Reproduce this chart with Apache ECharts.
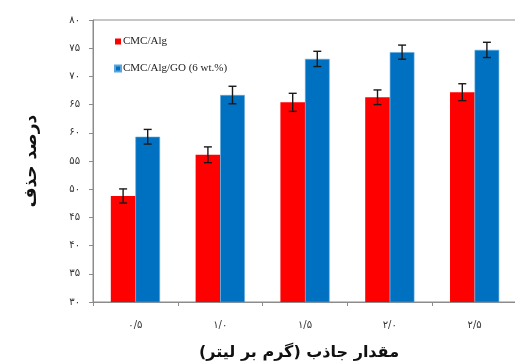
<!DOCTYPE html>
<html>
<head>
<meta charset="utf-8">
<script src="https://cdn.jsdelivr.net/npm/echarts@6/dist/echarts.min.js"></script>
<style>
  html, body { margin: 0; padding: 0; background: #fff; }
  #chart { width: 515px; height: 364px; }
</style>
</head>
<body>
<div id="chart"></div>
<script>
// Adsorbent dose (g/L), written with Persian digits
const categories = ['۰/۵', '۱/۰', '۱/۵', '۲/۰', '۲/۵'];

// Removal percentage for each membrane
const cmcAlg = [48.8, 56.1, 65.4, 66.3, 67.2];
const cmcAlgGo = [59.3, 66.7, 73.1, 74.3, 74.7];

// Standard deviation for the error bars
const cmcAlgErr = [1.25, 1.4, 1.6, 1.3, 1.5];
const cmcAlgGoErr = [1.3, 1.55, 1.35, 1.25, 1.35];

const seriesNames = ['CMC/Alg', 'CMC/Alg/GO (6 wt.%)'];

const persianDigits = '۰۱۲۳۴۵۶۷۸۹';
const toPersian = v => String(v).replace(/[0-9]/g, d => persianDigits[+d]);

const CAT_GAP = 0.42;
const RED = '#ff0000';
const BLUE = '#0070c0';
const AXIS = '#8c8c8c';

// Error bar drawn at one bar of a grouped pair (side -1 = left bar, +1 = right bar)
function errorBar(side, values, errs) {
  return {
    type: 'custom',
    silent: true,
    z: 10,
    data: values.map((v, i) => [i, v, errs[i]]),
    renderItem(params, api) {
      const idx = api.value(0), val = api.value(1), err = api.value(2);
      const catW = api.size([1, 0])[0];
      const barW = catW * (1 - CAT_GAP) / 2;
      const c = api.coord([idx, val]);
      const x = c[0] + side * barW / 2;
      const yHi = api.coord([idx, val + err])[1];
      const yLo = api.coord([idx, val - err])[1];
      const cap = 4;
      const style = { stroke: '#1a1a1a', lineWidth: 1.4 };
      return {
        type: 'group',
        children: [
          { type: 'line', shape: { x1: x, y1: yHi, x2: x, y2: yLo }, style },
          { type: 'line', shape: { x1: x - cap, y1: yHi, x2: x + cap, y2: yHi }, style },
          { type: 'line', shape: { x1: x - cap, y1: yLo, x2: x + cap, y2: yLo }, style }
        ]
      };
    }
  };
}

const chart = echarts.init(document.getElementById('chart'), null, { renderer: 'canvas' });
chart.setOption({
  animation: false,
  backgroundColor: '#fff',
  grid: {
    left: 93, top: 20, width: 424, height: 282,
    outerBoundsMode: 'none',
    containLabel: false,
    show: true, borderColor: AXIS, borderWidth: 1, backgroundColor: 'transparent'
  },
  legend: {
    orient: 'vertical',
    left: 109, top: 31,
    itemWidth: 6, itemHeight: 6, itemGap: 16,
    icon: 'rect',
    data: seriesNames,
    textStyle: { fontFamily: 'Liberation Serif', fontSize: 11, color: '#222', padding: [0, 0, 0, -3] }
  },
  xAxis: {
    type: 'category',
    data: categories,
    name: 'مقدار جاذب (گرم بر لیتر)',
    nameLocation: 'middle',
    nameGap: 43,
    nameTextStyle: { fontFamily: 'DejaVu Sans', fontWeight: 'bold', fontSize: 16, color: '#111', padding: [0, 12, 0, 0] },
    axisLine: { lineStyle: { color: AXIS, width: 1 } },
    axisTick: { show: true, length: 4, lineStyle: { color: AXIS } },
    axisLabel: { margin: 18, fontFamily: 'DejaVu Sans', fontSize: 10, color: '#333' }
  },
  yAxis: {
    type: 'value',
    min: 30, max: 80, interval: 5,
    name: 'درصد حذف',
    nameLocation: 'middle',
    nameRotate: 90,
    nameGap: 53,
    nameTextStyle: { fontFamily: 'DejaVu Sans', fontWeight: 'bold', fontSize: 17, color: '#111' },
    axisLine: { show: true, lineStyle: { color: AXIS, width: 1 } },
    axisTick: { show: true, length: 4, lineStyle: { color: AXIS } },
    splitLine: { show: false },
    axisLabel: {
      margin: 13, fontFamily: 'DejaVu Sans', fontSize: 10, color: '#333',
      formatter: v => toPersian(v)
    }
  },
  series: [
    {
      name: seriesNames[0], type: 'bar', data: cmcAlg,
      barGap: '0%', barCategoryGap: (CAT_GAP * 100) + '%',
      itemStyle: { color: RED }
    },
    {
      name: seriesNames[1], type: 'bar', data: cmcAlgGo,
      barGap: '0%', barCategoryGap: (CAT_GAP * 100) + '%',
      itemStyle: { color: BLUE, borderColor: '#5aa6dc', borderWidth: 0.6 }
    },
    errorBar(-1, cmcAlg, cmcAlgErr),
    errorBar(1, cmcAlgGo, cmcAlgGoErr)
  ]
});
</script>
</body>
</html>
